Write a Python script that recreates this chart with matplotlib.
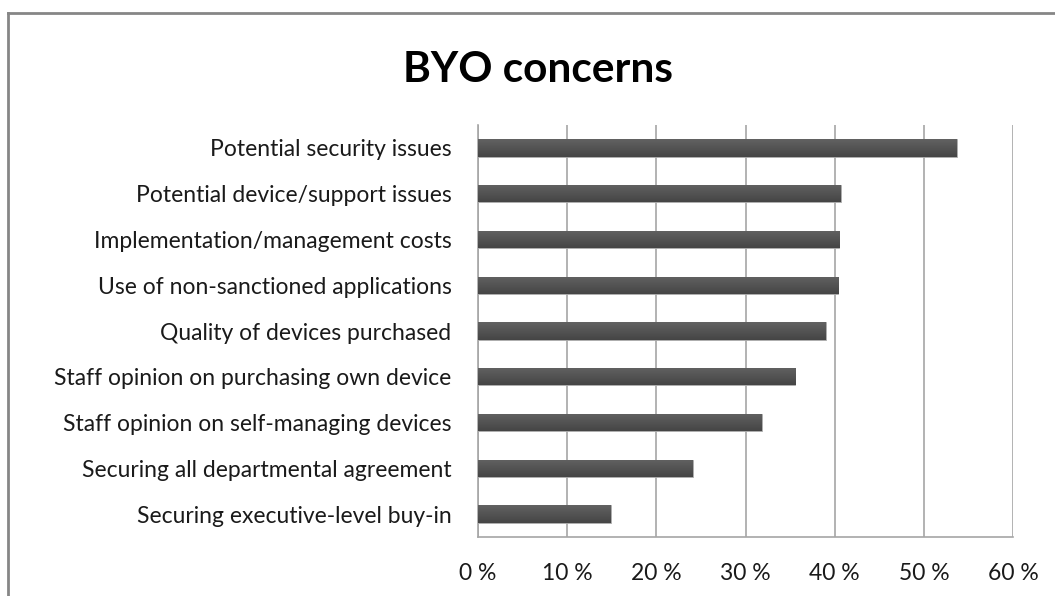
import numpy as np
import matplotlib
matplotlib.use('Agg')
import matplotlib.pyplot as plt
from matplotlib.lines import Line2D

concerns = ["Potential security issues",
            "Potential device/support issues",
            "Implementation/management costs",
            "Use of non-sanctioned applications",
            "Quality of devices purchased",
            "Staff opinion on purchasing own device",
            "Staff opinion on self-managing devices",
            "Securing all departmental agreement",
            "Securing executive-level buy-in"]
share = [53.7, 40.7, 40.5, 40.4, 39.0, 35.6, 31.8, 24.1, 14.9]
ticks = [0, 10, 20, 30, 40, 50, 60]
tick_labels = ["0 %", "10 %", "20 %", "30 %", "40 %", "50 %", "60 %"]

plt.rcParams['font.family'] = ['Lato', 'DejaVu Sans']

fig = plt.figure(figsize=(10.55, 5.96), dpi=100)
ax = fig.add_axes([478 / 1055, 1 - 537 / 596, 535 / 1055, 412 / 596])

y = np.arange(len(concerns))
bars = ax.barh(y, share, height=0.38, color='#545454', edgecolor='#b0b0b0',
               linewidth=0.6, zorder=3)

# vertical gradient inside each bar (lighter top, darker bottom)
grad = np.linspace(0, 1, 64).reshape(-1, 1)
cmap = matplotlib.colors.LinearSegmentedColormap.from_list('g', ['#626262', '#454545'])
for b in bars:
    x0, y0 = b.get_x(), b.get_y()
    im = ax.imshow(grad, cmap=cmap, aspect='auto', zorder=4,
                   extent=(x0, x0 + b.get_width(), y0 + b.get_height(), y0))
    im.set_clip_path(b)

ax.set_xlim(0, 60)
ax.set_ylim(len(concerns) - 0.5, -0.5)
ax.set_xticks(ticks)
ax.set_xticklabels(tick_labels)
ax.set_yticks(y)
ax.set_yticklabels(concerns)
ax.tick_params(axis='both', length=0, labelsize=16.5, colors='#1a1a1a')
ax.tick_params(axis='x', pad=19)
ax.tick_params(axis='y', pad=19)

ax.grid(axis='x', color='#a6a6a6', linewidth=1.2, zorder=0)
for s in ['top', 'right']:
    ax.spines[s].set_visible(False)
for s in ['left', 'bottom']:
    ax.spines[s].set_color('#a6a6a6')
    ax.spines[s].set_linewidth(1.2)

fig.text(538 / 1055, 1 - 70 / 596, "BYO concerns", ha='center', va='center',
         fontsize=30.5, fontweight='bold', color='#000000')

# chart area border (runs off the right and bottom of the image)
fig.add_artist(Line2D([8 / 1055, 1.0], [1 - 13 / 596, 1 - 13 / 596],
                      transform=fig.transFigure, color='#868686', linewidth=2))
fig.add_artist(Line2D([8 / 1055, 8 / 1055], [1 - 13 / 596, 0.0],
                      transform=fig.transFigure, color='#868686', linewidth=2))

fig.savefig('out.png', dpi=100)
